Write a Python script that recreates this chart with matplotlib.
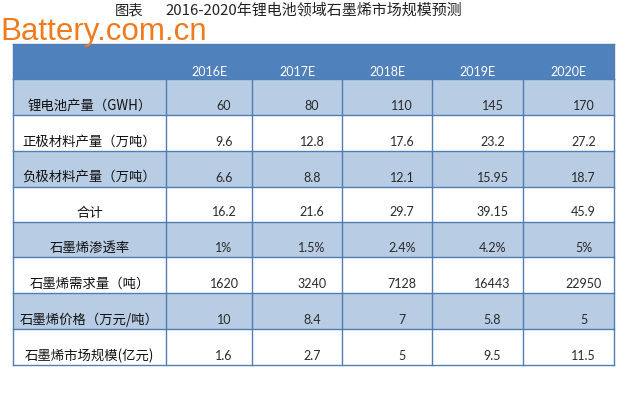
import matplotlib
matplotlib.use("Agg")
import matplotlib.pyplot as plt
from matplotlib.patches import Rectangle

plt.rcParams['font.family'] = ['Noto Sans CJK SC', 'DejaVu Sans']

title_head = "图表"
title_body = "2016-2020年锂电池领域石墨烯市场规模预测"
years = ["2016E", "2017E", "2018E", "2019E", "2020E"]
row_labels = ["锂电池产量（GWH）", "正极材料产量（万吨）", "负极材料产量（万吨）", "合计",
              "石墨烯渗透率", "石墨烯需求量（吨）", "石墨烯价格（万元/吨）", "石墨烯市场规模(亿元)"]
lithium = ["60", "80", "110", "145", "170"]
cathode = ["9.6", "12.8", "17.6", "23.2", "27.2"]
anode = ["6.6", "8.8", "12.1", "15.95", "18.7"]
total = ["16.2", "21.6", "29.7", "39.15", "45.9"]
penetration = ["1%", "1.5%", "2.4%", "4.2%", "5%"]
demand = ["1620", "3240", "7128", "16443", "22950"]
price = ["10", "8.4", "7", "5.8", "5"]
market = ["1.6", "2.7", "5", "9.5", "11.5"]
rows = [lithium, cathode, anode, total, penetration, demand, price, market]

# layout in pixels
col_edges = [13, 166, 252, 342, 432, 523, 614]
row_edges = [44, 79, 115, 151, 187, 222, 257, 293, 329, 365]
header_c = "#4F81BD"
band_c = "#B8CCE4"
line_c = "#4F7DB4"
num_font = ["Lato", "DejaVu Sans"]

fig = plt.figure(figsize=(6.28, 4.03), dpi=100)
ax = fig.add_axes([0, 0, 1, 1])
ax.set_xlim(0, 628)
ax.set_ylim(403, 0)
ax.axis("off")

# header
ax.add_patch(Rectangle((col_edges[0], row_edges[0]), col_edges[-1] - col_edges[0],
                       row_edges[1] - row_edges[0], facecolor=header_c, edgecolor="none"))
for j, y in enumerate(years):
    cx = (col_edges[j + 1] + col_edges[j + 2]) / 2
    ax.text(cx, row_edges[1] - 7.5, y, color="white", fontsize=9, family=num_font,
            ha="center", va="center")

# body
for i, (lab, vals) in enumerate(zip(row_labels, rows)):
    top, bot = row_edges[i + 1], row_edges[i + 2]
    fc = band_c if i % 2 == 0 else "white"
    ax.add_patch(Rectangle((col_edges[0], top), col_edges[-1] - col_edges[0], bot - top,
                           facecolor=fc, edgecolor="none"))
    ax.text((col_edges[0] + col_edges[1]) / 2, bot - 9.5, lab, fontsize=9.6, color="#111111",
            ha="center", va="center")
    for j, v in enumerate(vals):
        cx = (col_edges[j + 1] + col_edges[j + 2]) / 2 + 15
        ax.text(cx, bot - 9.5, v, fontsize=9, color="#2a2a2a", family=num_font,
                ha="center", va="center")

# grid lines
for y in row_edges[1:]:
    ax.plot([col_edges[0], col_edges[-1]], [y, y], color=line_c, lw=1)
for x in col_edges:
    ax.plot([x, x], [row_edges[1], row_edges[-1]], color=line_c, lw=1)
ax.plot([col_edges[0], col_edges[-1]], [row_edges[0], row_edges[0]], color=line_c, lw=1)
ax.plot([col_edges[0]] * 2, [row_edges[0], row_edges[1]], color=line_c, lw=1)
ax.plot([col_edges[-1]] * 2, [row_edges[0], row_edges[1]], color=line_c, lw=1)

# title and watermark
ax.text(115, 10, title_head, fontsize=10.3, color="#222222", ha="left", va="center")
ax.text(165, 10, title_body, fontsize=10.8, color="#222222", ha="left", va="center")
ax.text(0, 40, "Battery.com.cn", fontsize=22.5, color="#F07A1E", family="Liberation Sans",
        ha="left", va="baseline")

fig.savefig("out.png", dpi=100)
